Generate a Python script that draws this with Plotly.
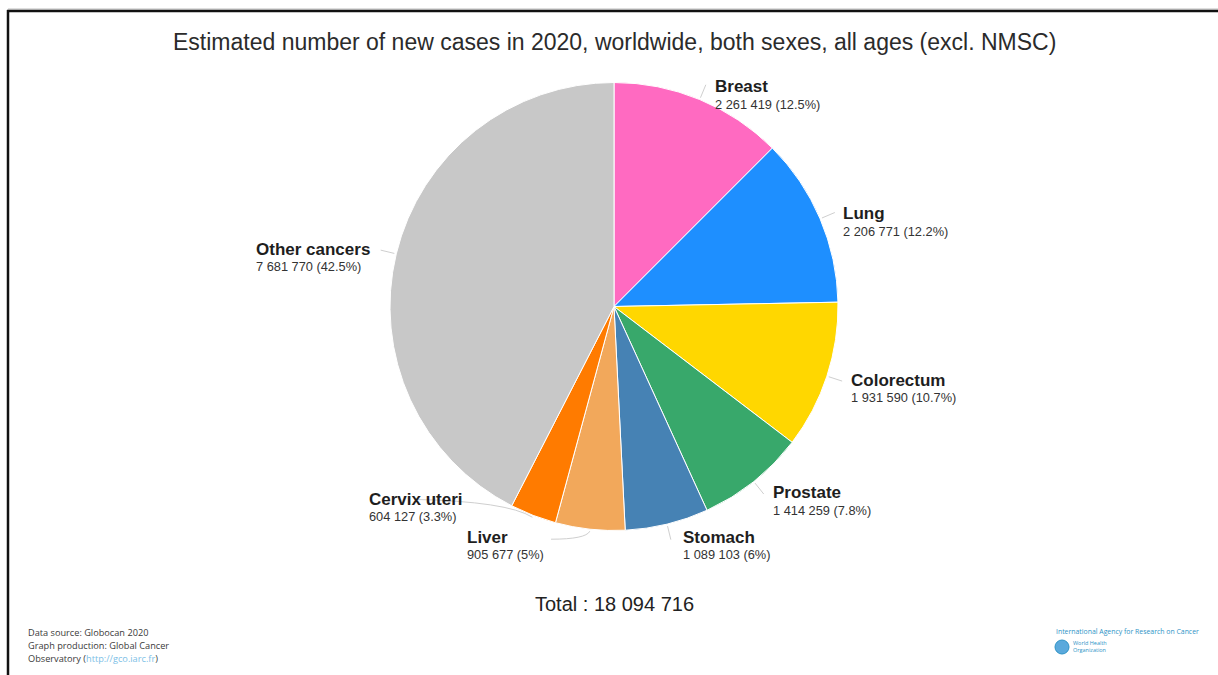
import math
import plotly.graph_objects as go

W, H = 1218, 675

chart_title = "Estimated number of new cases in 2020, worldwide, both sexes, all ages (excl. NMSC)"
sites = ["Breast", "Lung", "Colorectum", "Prostate", "Stomach", "Liver", "Cervix uteri", "Other cancers"]
new_cases = [2261419, 2206771, 1931590, 1414259, 1089103, 905677, 604127, 7681770]
slice_colors = ["#ff6ac1", "#1e8fff", "#ffd700", "#38a86b", "#4682b4", "#f2a85b", "#ff7b00", "#c8c8c8"]
footer_left = ["Data source: Globocan 2020", "Graph production: Global Cancer", "Observatory ("]
footer_url = "http://gco.iarc.fr"

# pie geometry in pixels
CX, CY, R = 614, 306.5, 224

# label placement: offset (px) of the label's left edge / title line from the slice's rim point
label_offsets = {
    "Breast": (13, -13),
    "Lung": (21, -5),
    "Colorectum": (22, 4),
    "Prostate": (17, 11),
    "Stomach": (14, 13),
    "Liver": (-125, 8),
    "Cervix uteri": (-166, -16),
    "Other cancers": (-142, -4.5),
}


def px(x):
    return x / W


def py(y):
    return 1 - y / H


def fmt(n):
    return f"{n:,}".replace(",", " ")


def pct(v, total):
    p = round(v / total * 100, 1)
    return f"{p:g}"


def rim(angle_deg, r):
    a = math.radians(angle_deg)
    return CX + r * math.sin(a), CY - r * math.cos(a)


total = sum(new_cases)

fig = go.Figure(
    go.Pie(
        values=new_cases,
        labels=sites,
        sort=False,
        direction="clockwise",
        rotation=0,
        textinfo="none",
        hoverinfo="label+value+percent",
        marker=dict(colors=slice_colors, line=dict(color="white", width=1)),
        domain=dict(x=[px(CX - R), px(CX + R)], y=[py(CY + R), py(CY - R)]),
        showlegend=False,
    )
)

annotations = []
shapes = []

# slice labels and leader lines
cum = 0
for name, v in zip(sites, new_cases):
    start = cum / total * 360
    cum += v
    end = cum / total * 360
    mid = (start + end) / 2
    ax, ay = rim(mid, R)
    dx, dy = label_offsets[name]
    lx, ly = ax + dx, ay + dy

    annotations.append(dict(
        x=px(lx), y=py(ly), xref="paper", yref="paper", xanchor="left", yanchor="middle",
        text=f"<b>{name}</b>", showarrow=False,
        font=dict(family="Liberation Sans, Arial, sans-serif", size=17, color="#1e1e1e"),
    ))
    annotations.append(dict(
        x=px(lx), y=py(ly + 17.5), xref="paper", yref="paper", xanchor="left", yanchor="middle",
        text=f"{fmt(v)} ({pct(v, total)}%)", showarrow=False,
        font=dict(family="Liberation Sans, Arial, sans-serif", size=12.8, color="#333333"),
    ))

    x0, y0 = rim(mid, R + 2)
    if dx > 0 or name == "Other cancers":
        x1, y1 = rim(mid, R + 16)
        path = f"M {px(x0)},{py(y0)} L {px(x1)},{py(y1)}"
    else:
        # curved leader towards the left-hand label
        ex, ey = lx + (47 if name == "Cervix uteri" else 86), ly + (0 if name == "Cervix uteri" else 2)
        cx_, cy_ = (x0 - 4, ey) if name == "Liver" else (x0 - 25, ey + 2)
        path = f"M {px(x0)},{py(y0)} Q {px(cx_)},{py(cy_)} {px(ex)},{py(ey)}"
    shapes.append(dict(type="path", path=path, xref="paper", yref="paper",
                       line=dict(color="#cfcfcf", width=1)))

# title and total
annotations.append(dict(
    x=px(CX), y=py(42), xref="paper", yref="paper", xanchor="center", yanchor="middle",
    text=chart_title, showarrow=False,
    font=dict(family="Liberation Sans, Arial, sans-serif", size=23, color="#2b2b2b"),
))
annotations.append(dict(
    x=px(CX), y=py(604), xref="paper", yref="paper", xanchor="center", yanchor="middle",
    text=f"Total : {fmt(total)}", showarrow=False,
    font=dict(family="Liberation Sans, Arial, sans-serif", size=20, color="#222222"),
))

# footer credits
for i, line in enumerate(footer_left):
    txt = line
    if i == 2:
        txt = line + f"<span style='color:#7cc0e6'>{footer_url}</span>)"
    annotations.append(dict(
        x=px(26), y=py(632 + 13 * i), xref="paper", yref="paper", xanchor="left", yanchor="middle",
        text=txt, showarrow=False,
        font=dict(family="Open Sans, sans-serif", size=9.2, color="#3a3a3a"),
    ))

annotations.append(dict(
    x=px(1054), y=py(631), xref="paper", yref="paper", xanchor="left", yanchor="middle",
    text="International Agency for Research on Cancer", showarrow=False,
    font=dict(family="Open Sans, sans-serif", size=6.9, color="#2e93c6"),
))
annotations.append(dict(
    x=px(1071), y=py(646), xref="paper", yref="paper", xanchor="left", yanchor="middle",
    text="World Health<br>Organization", showarrow=False, align="left",
    font=dict(family="Open Sans, sans-serif", size=5.5, color="#2e93c6"),
))
shapes.append(dict(type="circle", xref="paper", yref="paper",
                   x0=px(1055), x1=px(1069), y0=py(654), y1=py(640),
                   fillcolor="#5aa9dc", line=dict(color="#2e93c6", width=1)))

# frame
shapes.append(dict(type="line", xref="paper", yref="paper", x0=px(8), x1=1.01, y0=py(9), y1=py(9),
                   line=dict(color="#bdbdbd", width=1)))
shapes.append(dict(type="line", xref="paper", yref="paper", x0=px(7), x1=1.01, y0=py(11), y1=py(11),
                   line=dict(color="#111111", width=2.5)))
shapes.append(dict(type="line", xref="paper", yref="paper", x0=px(8), x1=px(8), y0=py(10), y1=-0.01,
                   line=dict(color="#111111", width=2.5)))

fig.update_layout(
    width=W, height=H, autosize=False,
    margin=dict(l=0, r=0, t=0, b=0),
    paper_bgcolor="white", plot_bgcolor="white",
    annotations=annotations, shapes=shapes,
)

fig.write_html("out.html")
